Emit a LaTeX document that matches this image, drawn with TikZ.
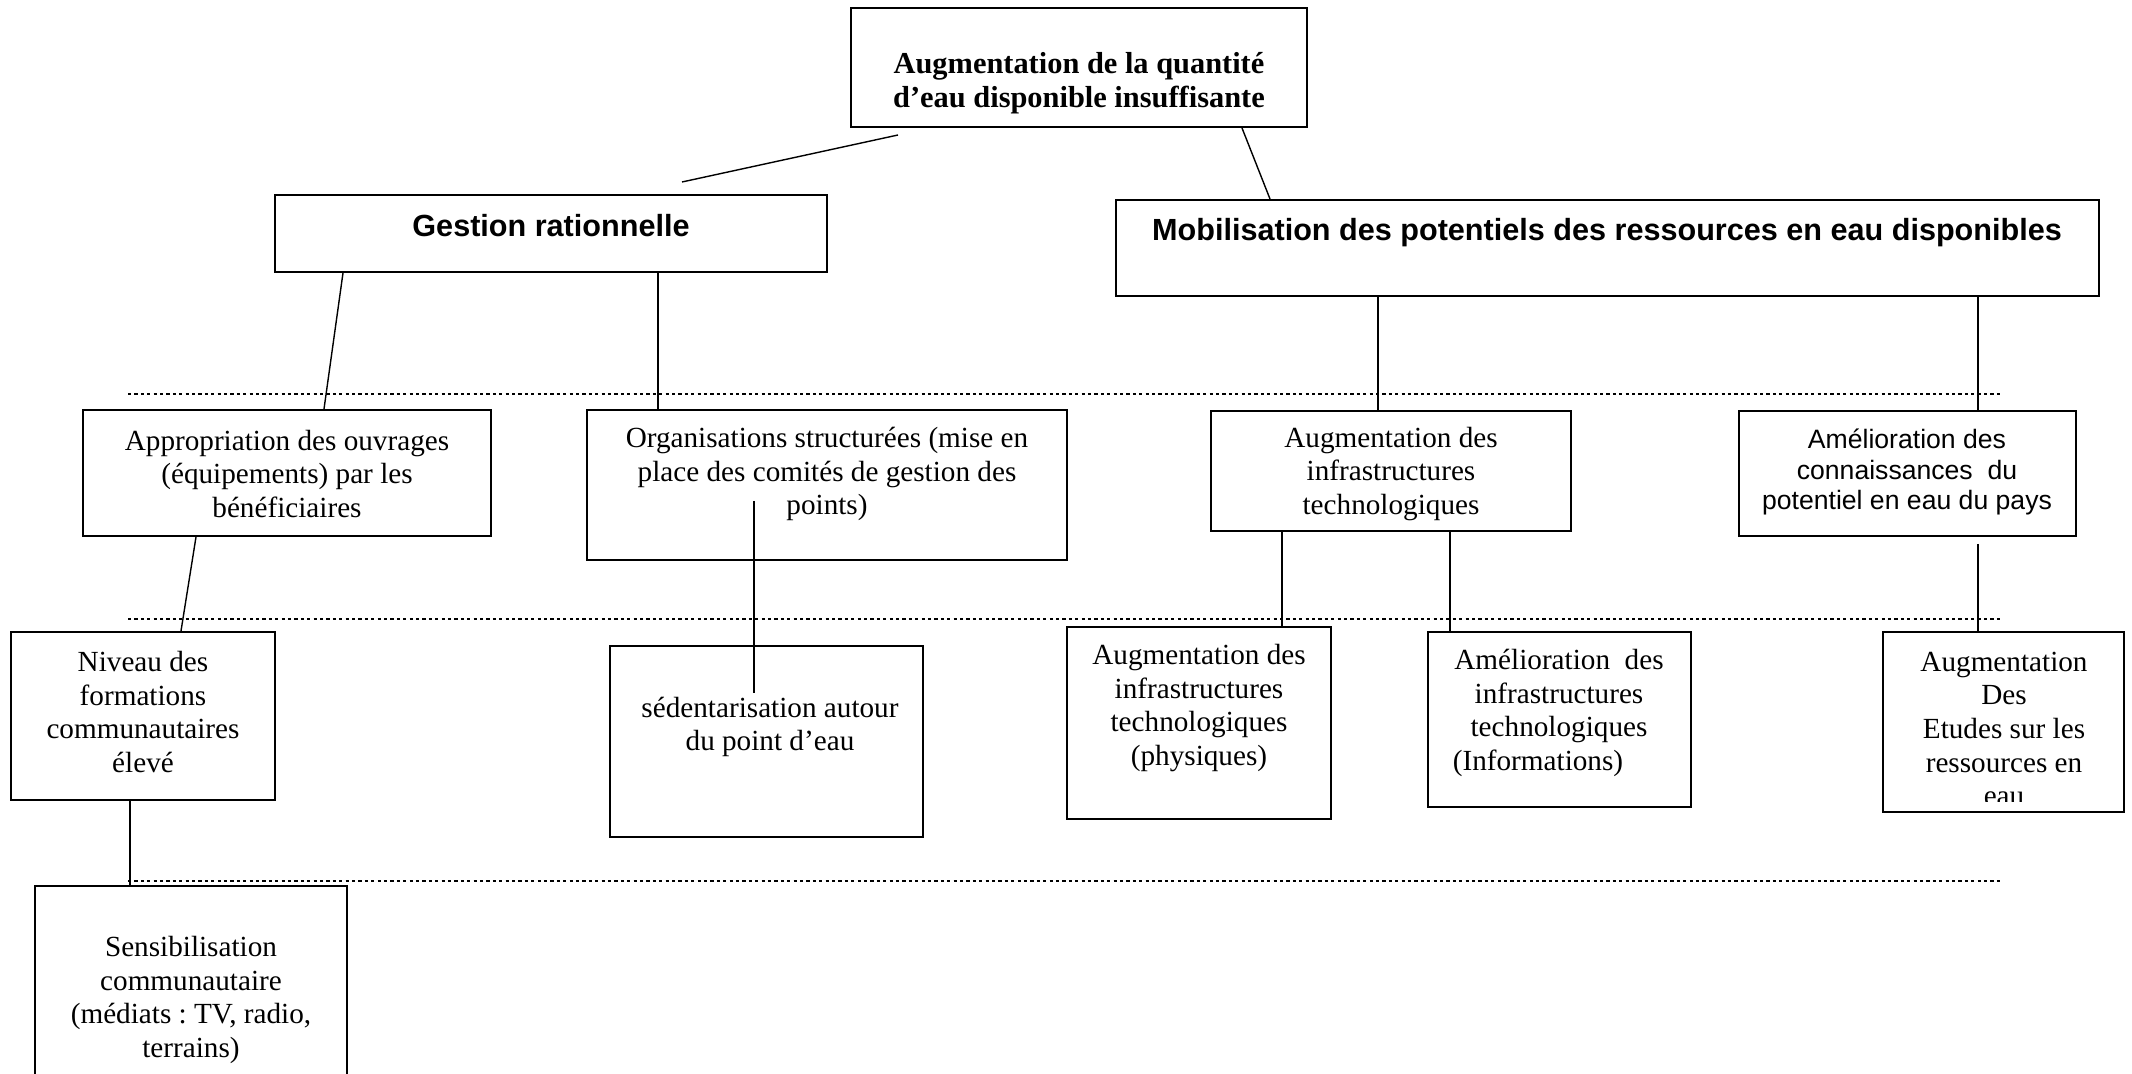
\documentclass[tikz,border=0pt]{standalone}
\usepackage{fontspec}
\setmainfont{Liberation Serif}
\newfontfamily\arialf{Liberation Sans}
\usetikzlibrary{fit,calc}
\frenchspacing
\begin{document}
\begin{tikzpicture}[x=0.5pt,y=-0.5pt,
  box/.style={draw, line width=1pt, inner sep=0pt},
  conn/.style={line width=0.7pt},
  sepline/.style={line width=0.9pt, dash pattern=on 1.6pt off 1.6pt},
  tnr/.style={font=\fontsize{14.6}{16.8}\selectfont\frenchspacing, align=center, inner sep=0pt},
  tnrb/.style={font=\fontsize{15.2}{17.2}\selectfont\bfseries, align=center, inner sep=0pt},
  arb/.style={font=\arialf\fontsize{15.3}{17}\selectfont\bfseries, inner sep=0pt},
  ar/.style={font=\arialf\fontsize{13.3}{15.4}\selectfont, align=center, inner sep=0pt}]
\clip (0,0) rectangle (2132,1074);
\fill[white] (0,0) rectangle (2132,1074);

% boxes
\node[box, fit={(851,8) (1307,127)}] (top) {};
\node[box, fit={(275,195) (827,272)}] (gest) {};
\node[box, fit={(1116,200) (2099,296)}] (mob) {};
\node[box, fit={(83,410) (491,536)}] (appr) {};
\node[box, fit={(587,410) (1067,560)}] (org) {};
\node[box, fit={(1211,411) (1571,531)}] (augi) {};
\node[box, fit={(1739,411) (2076,536)}] (amel) {};
\node[box, fit={(11,632) (275,800)}] (niv) {};
\node[box, fit={(610,646) (923,837)}] (sed) {};
\node[box, fit={(1067,627) (1331,819)}] (phys) {};
\node[box, fit={(1428,632) (1691,807)}] (info) {};
\node[box, fit={(1883,632) (2124,812)}] (etud) {};
\node[box, fit={(35,886) (347,1100)}] (sens) {};

% texts
\node[tnrb] (toptxt) at (1079,83) {Augmentation de la quantité\\d’eau disponible insuffisante};
\node[arb] (gesttxt) at (551,226) {Gestion rationnelle};
\node[arb] (mobtxt) at (1607,233) {Mobilisation des potentiels des ressources en eau disponibles};
\node[tnr] (apprtxt) at (287,474) {Appropriation des ouvrages\\(équipements) par les\\bénéficiaires};
\node[tnr] (orgtxt) at (827,474) {Organisations structurées (mise en\\place des comités de gestion des\\points)};
\node[tnr] (augitxt) at (1391,474) {Augmentation des\\infrastructures\\technologiques};
\node[ar] (ameltxt) at (1907,472) {Amélioration des\\connaissances~ du\\potentiel en eau du pays};
\node[tnr] (nivtxt) at (143,712) {Niveau des\\formations\\communautaires\\élevé};
\node[tnr] (sedtxt) at (770,727) {sédentarisation autour\\du point d’eau};
\node[tnr] (physlbl) at (1199,708) {Augmentation des\\infrastructures\\technologiques\\(physiques)};
\node[tnr] (infotxt) at (1559,713) {Amélioration~ des\\infrastructures\\technologiques\\(Informations)\hspace*{21pt}};
\begin{scope}
  \clip (1883,632) rectangle (2124,801);
  \node[tnr] (etudtxt) at (2004,729) {Augmentation\\Des\\Etudes sur les\\ressources en\\eau};
\end{scope}
\node[tnr] (senstxt) at (191,1000) {Sensibilisation\\communautaire\\(médiats : TV, radio,\\terrains)};

% separators
\draw[sepline] (128,394) -- (2003,394);
\draw[sepline] (128,619) -- (2003,619);
\draw[sepline] (128,881) -- (2003,881);

% connectors
\draw[conn] ($(top.south west)+(48,7)$) -- ($(gest.north west)+(408,-12)$);
\draw[conn] ($(top.south west)+(392,0)$) -- ($(mob.north west)+(155,0)$);
\draw[conn] ($(gest.south west)+(69,0)$) -- ($(appr.north west)+(242,0)$);
\draw[conn] ($(gest.south west)+(384,0)$) -- ($(org.north west)+(72,0)$);
\draw[conn] ($(mob.south west)+(263,0)$) -- ($(augi.north west)+(168,0)$);
\draw[conn] ($(mob.south west)+(863,0)$) -- ($(amel.north west)+(240,0)$);
\draw[conn] ($(appr.south west)+(114,0)$) -- ($(niv.north west)+(171,0)$);
\draw[conn] ($(niv.south west)+(120,0)$) -- ($(sens.north west)+(96,0)$);
\draw[conn] ($(org.north west)+(168,92)$) -- ($(sed.north west)+(145,48)$);
\draw[conn] ($(augi.south west)+(72,0)$) -- ($(phys.north west)+(216,0)$);
\draw[conn] ($(augi.south west)+(240,0)$) -- ($(info.north west)+(23,0)$);
\draw[conn] ($(amel.south west)+(240,7)$) -- ($(etud.north west)+(96,0)$);
\end{tikzpicture}
\end{document}
